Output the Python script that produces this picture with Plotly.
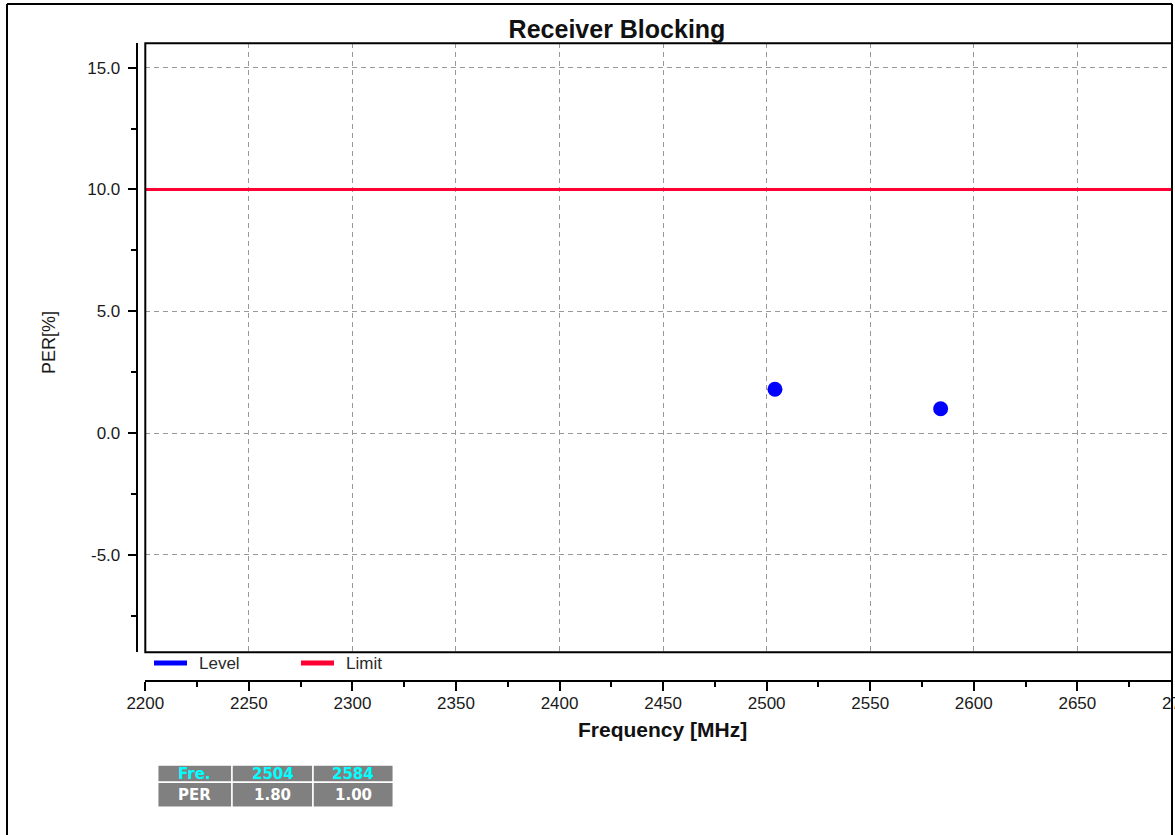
import plotly.graph_objects as go

# Measured points
freq_mhz = [2504, 2584]
per_pct = [1.80, 1.00]

# Pass/fail limit
limit_freq = [2200, 2700]
limit_pct = [10.0, 10.0]

# Axis ticks
y_ticks = [-5.0, 0.0, 5.0, 10.0, 15.0]
y_tick_labels = [f"{v:.1f}" for v in y_ticks]

x_range = [2200, 2695.7]
y_range = [-9, 16]

W, H = 1175, 835


def px(x):
    return x / W


def py(y):
    return 1 - y / H


FONT = "Liberation Sans, Arial, sans-serif"
TABLE_FONT = "DejaVu Sans, sans-serif"
BLUE = "#0000ff"
RED = "#ff0033"
GRID = "#999999"

fig = go.Figure()

fig.add_trace(go.Scatter(
    x=limit_freq, y=limit_pct, mode="lines", name="Limit",
    line=dict(color=RED, width=3), xaxis="x2", yaxis="y",
    hoverinfo="skip",
))
fig.add_trace(go.Scatter(
    x=freq_mhz, y=per_pct, mode="markers", name="Level",
    marker=dict(color=BLUE, size=15, symbol="circle", line=dict(width=0)),
    xaxis="x", yaxis="y",
))

fig.update_layout(
    width=W, height=H,
    margin=dict(l=0, r=0, t=0, b=0, autoexpand=False),
    paper_bgcolor="white", plot_bgcolor="white",
    showlegend=False,
    title=dict(
        text="Receiver Blocking", x=px(617), y=py(29),
        xanchor="center", yanchor="middle", xref="paper", yref="paper",
        font=dict(family=FONT, size=25, color="#111111", weight="bold"),
    ),
    xaxis=dict(
        domain=[px(145.3), px(1172)], range=x_range, anchor="y",
        tick0=2200, dtick=50, showgrid=True, gridcolor=GRID, gridwidth=1,
        griddash="5px,4px", showticklabels=False, ticks="", showline=False,
        zeroline=False, fixedrange=True, automargin=False,
    ),
    xaxis2=dict(
        overlaying="x", anchor="free", position=py(681), side="bottom",
        range=x_range, tick0=2200, dtick=50, showgrid=False, zeroline=False,
        showline=True, linecolor="black", linewidth=2, automargin=False,
        ticks="outside", ticklen=9, tickwidth=2, tickcolor="black",
        minor=dict(dtick=25, ticklen=5, tickwidth=2, tickcolor="black", showgrid=False),
        tickfont=dict(family=FONT, size=17, color="#1a1a1a"),
        ticklabelstandoff=-2,
    ),
    yaxis=dict(
        domain=[py(652.3), py(43.3)], range=y_range,
        anchor="free", position=px(136.7), side="left", automargin=False,
        tickmode="array", tickvals=y_ticks, ticktext=y_tick_labels,
        showgrid=True, gridcolor=GRID, gridwidth=1, griddash="5px,4px",
        zeroline=False, showline=True, linecolor="black", linewidth=2,
        ticks="outside", ticklen=8, tickwidth=2, tickcolor="black",
        minor=dict(tickmode="linear", tick0=0, dtick=2.5, ticklen=5, tickwidth=2,
                   tickcolor="black", showgrid=False),
        tickfont=dict(family=FONT, size=17, color="#1a1a1a"),
        ticklabelstandoff=4,
    ),
)

shapes = [
    # plot frame
    dict(type="rect", xref="x domain", yref="y domain", x0=0, x1=1, y0=0, y1=1,
         line=dict(color="black", width=2), layer="above"),
    # outer panel border
    dict(type="line", xref="paper", yref="paper", x0=px(7), x1=px(7), y0=py(4), y1=py(840),
         line=dict(color="black", width=2)),
    dict(type="line", xref="paper", yref="paper", x0=px(7), x1=px(1172), y0=py(4), y1=py(4),
         line=dict(color="black", width=2)),
    dict(type="line", xref="paper", yref="paper", x0=px(1172), x1=px(1172), y0=py(4), y1=py(840),
         line=dict(color="black", width=2)),
    # legend swatches
    dict(type="line", xref="paper", yref="paper", x0=px(154), x1=px(187), y0=py(663), y1=py(663),
         line=dict(color=BLUE, width=5)),
    dict(type="line", xref="paper", yref="paper", x0=px(301), x1=px(334), y0=py(663), y1=py(663),
         line=dict(color=RED, width=5)),
]

annotations = [
    dict(text="Level", xref="paper", yref="paper", x=px(197), y=py(663),
         xanchor="left", yanchor="middle", showarrow=False,
         font=dict(family=FONT, size=17, color="#2a2a2a")),
    dict(text="Limit", xref="paper", yref="paper", x=px(344), y=py(663),
         xanchor="left", yanchor="middle", showarrow=False,
         font=dict(family=FONT, size=17, color="#2a2a2a")),
    dict(text="PER[%]", xref="paper", yref="paper", x=px(49), y=py(343),
         xanchor="center", yanchor="middle", showarrow=False, textangle=-90,
         font=dict(family=FONT, size=18, color="#1a1a1a")),
    dict(text="Frequency [MHz]", xref="paper", yref="paper", x=px(662.5), y=py(729),
         xanchor="center", yanchor="middle", showarrow=False,
         font=dict(family=FONT, size=21, color="#111111", weight="bold")),
    # last tick label, cut by the panel edge
    dict(text="2700", xref="paper", yref="paper", x=px(1181), y=py(703),
         xanchor="center", yanchor="middle", showarrow=False,
         font=dict(family=FONT, size=17, color="#1a1a1a")),
]

# Summary table: a header row of frequencies and a row of PER values
col_edges = [157.7, 232, 313, 393.3]
row_edges = [765, 782.3, 807.3]
table_rows = [
    (["Fre."] + [str(f) for f in freq_mhz], "#00ffff"),
    (["PER"] + [f"{v:.2f}" for v in per_pct], "#ffffff"),
]
for r, (labels, color) in enumerate(table_rows):
    y0, y1 = row_edges[r], row_edges[r + 1]
    for c, label in enumerate(labels):
        x0, x1 = col_edges[c], col_edges[c + 1]
        shapes.append(dict(
            type="rect", xref="paper", yref="paper",
            x0=px(x0), x1=px(x1), y0=py(y1), y1=py(y0),
            fillcolor="#808080", line=dict(color="#ffffff", width=1.5),
        ))
        annotations.append(dict(
            text=label, xref="paper", yref="paper",
            x=px((x0 + x1) / 2), y=py((y0 + y1) / 2),
            xanchor="center", yanchor="middle", showarrow=False,
            font=dict(family=TABLE_FONT, size=15, color=color, weight="bold"),
        ))

fig.update_layout(shapes=shapes, annotations=annotations)

fig.write_html("out.html")
